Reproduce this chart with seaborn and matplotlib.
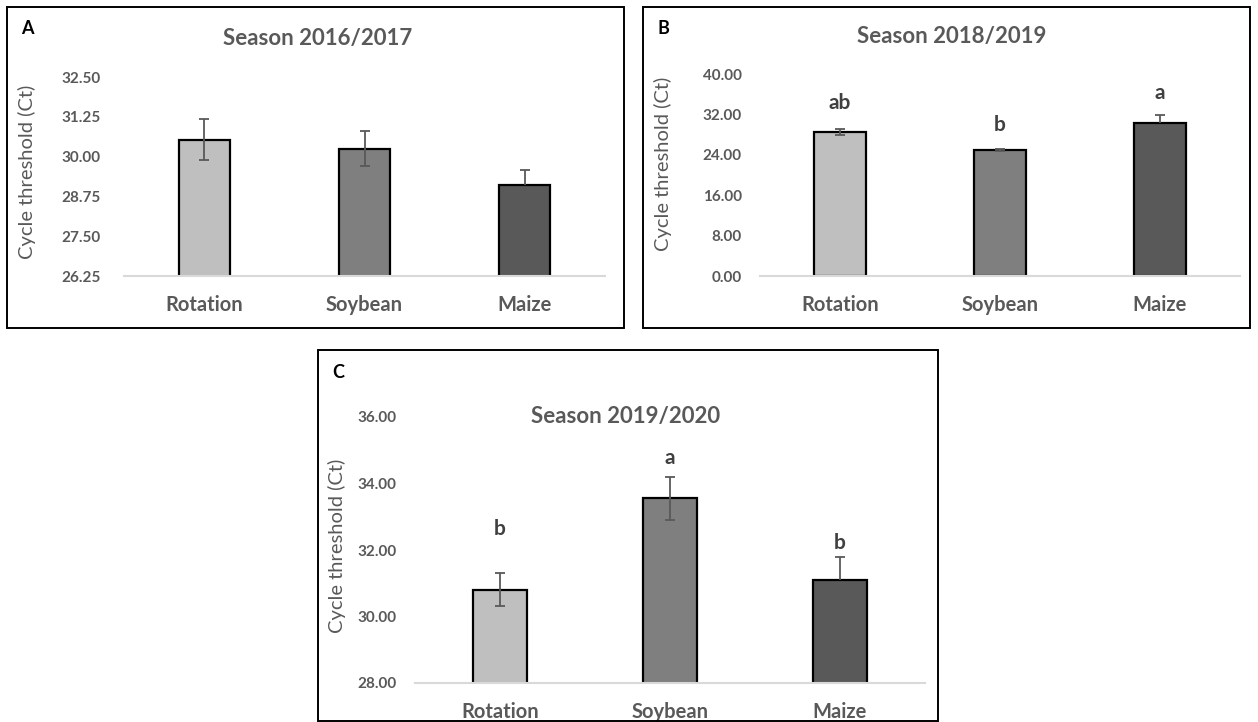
import matplotlib
matplotlib.use("Agg")
import matplotlib.pyplot as plt
import seaborn as sns
import pandas as pd
from matplotlib.patches import Rectangle

# Treatments and their bar fills
treatments = ["Rotation", "Soybean", "Maize"]
bar_colors = ["#bfbfbf", "#7f7f7f", "#595959"]

# Season 2016/2017
ct_2016 = [30.52, 30.24, 29.10]
err_lo_2016 = [0.64, 0.55, 0.0]
err_hi_2016 = [0.65, 0.56, 0.47]
ticks_2016 = [26.25, 27.50, 28.75, 30.00, 31.25, 32.50]

# Season 2018/2019
ct_2018 = [28.5, 25.0, 30.2]
err_lo_2018 = [0.6, 0.15, 0.0]
err_hi_2018 = [0.6, 0.15, 1.65]
ticks_2018 = [0.0, 8.0, 16.0, 24.0, 32.0, 40.0]
letters_2018 = ["ab", "b", "a"]
letter_y_2018 = [34.3, 29.9, 36.2]

# Season 2019/2020
ct_2019 = [30.8, 33.55, 31.1]
err_lo_2019 = [0.48, 0.64, 0.0]
err_hi_2019 = [0.52, 0.65, 0.68]
ticks_2019 = [28.0, 30.0, 32.0, 34.0, 36.0]
letters_2019 = ["b", "a", "b"]
letter_y_2019 = [32.64, 34.76, 32.21]

W, H = 1258, 722
GRAY = "#595959"

sns.set_style("white")
plt.rcParams["font.family"] = ["Lato", "DejaVu Sans"]

fig = plt.figure(figsize=(W / 100, H / 100), dpi=100)


def fx(px):
    return px / W


def fy(py):
    return 1 - py / H


def panel(box, frame, tag, title, title_xy, ylabel_xy, ytick_pad,
          values, lo, hi, ticks, letters=None, letter_y=None):
    x0, y_top, x1, y_bot = box
    ax = fig.add_axes([fx(x0), fy(y_bot), (x1 - x0) / W, (y_bot - y_top) / H])
    df = pd.DataFrame({"treatment": treatments, "ct": values})
    sns.barplot(data=df, x="treatment", y="ct", hue="treatment",
                palette=bar_colors, order=treatments, hue_order=treatments,
                width=0.32, edgecolor="black", linewidth=1.6,
                errorbar=None, legend=False, ax=ax, zorder=2)
    ax.set_ylim(ticks[0], ticks[-1])
    ax.set_xlim(-0.5, 2.5)
    for i, (v, l, h) in enumerate(zip(values, lo, hi)):
        _, caps, _ = ax.errorbar(i, v, yerr=[[l], [h]], fmt="none",
                                 ecolor=GRAY, elinewidth=1.3, capsize=3.3,
                                 capthick=1.3, zorder=3)
        if l == 0:
            caps[0].set_visible(False)
    ax.set_yticks(ticks)
    ax.set_yticklabels([f"{t:.2f}" for t in ticks])
    ax.tick_params(axis="y", length=0, pad=ytick_pad, labelsize=11,
                   labelcolor=GRAY)
    ax.tick_params(axis="x", length=0, pad=14, labelsize=14.5,
                   labelcolor=GRAY)
    for lab in ax.get_xticklabels() + ax.get_yticklabels():
        lab.set_fontweight("bold")
    ax.set_xlabel("")
    ax.set_ylabel("Cycle threshold (Ct)", fontsize=14.5, color=GRAY)
    lx, ly = ylabel_xy
    ax.yaxis.set_label_coords((lx - x0) / (x1 - x0), (y_bot - ly) / (y_bot - y_top))
    ax.yaxis.label.set_verticalalignment("center")
    for s in ["left", "right", "top"]:
        ax.spines[s].set_visible(False)
    ax.spines["bottom"].set_color("#d9d9d9")
    ax.spines["bottom"].set_linewidth(1.5)
    ax.patch.set_alpha(0)
    if letters:
        for i, (t, yy) in enumerate(zip(letters, letter_y)):
            ax.text(i, yy, t, ha="center", va="center", fontsize=15,
                    fontweight="bold", color="#404040")
    # chart border, title and panel tag
    fx0, fy0, fx1, fy1 = frame
    fig.add_artist(Rectangle((fx(fx0), fy(fy1)), (fx1 - fx0) / W, (fy1 - fy0) / H,
                             transform=fig.transFigure, fill=False,
                             edgecolor="black", linewidth=1.4))
    fig.text(fx(title_xy[0]), fy(title_xy[1]), title, ha="center", va="center",
             fontsize=16, fontweight="bold", color=GRAY)
    fig.text(fx(fx0 + 14), fy(fy0 + 22), tag, ha="left", va="center",
             fontsize=13, fontweight="bold", color="black")
    return ax


panel((124, 77, 605, 276), (7, 7, 624, 328), "A", "Season 2016/2017",
      (318, 39), (27, 172), 17, ct_2016, err_lo_2016, err_hi_2016, ticks_2016)
panel((760, 74, 1240, 276), (643, 7, 1250, 328), "B", "Season 2018/2019",
      (952, 37), (663, 164), 13, ct_2018, err_lo_2018, err_hi_2018, ticks_2018,
      letters_2018, letter_y_2018)
panel((415, 417, 925, 683), (318, 350, 938, 721), "C", "Season 2019/2020",
      (626, 416), (337, 546), 13, ct_2019, err_lo_2019, err_hi_2019, ticks_2019,
      letters_2019, letter_y_2019)

fig.savefig("out.png", dpi=100)
